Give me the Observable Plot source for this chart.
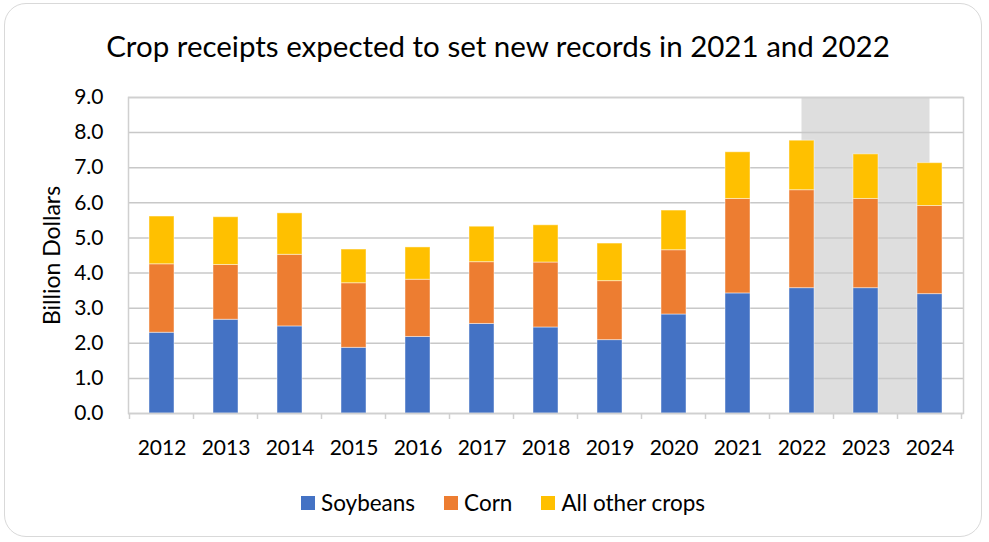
<!DOCTYPE html>
<html>
<head>
<meta charset="utf-8">
<script src="https://cdn.jsdelivr.net/npm/d3@7"></script>
<script src="https://cdn.jsdelivr.net/npm/@observablehq/plot@0.6"></script>
<style>
  html, body { margin: 0; padding: 0; background: #fff; }
  #wrap { position: relative; width: 989px; height: 542px; overflow: hidden; font-family: Lato, "Open Sans", sans-serif; color: #000; }
  #box { position: absolute; left: 4px; top: 3px; width: 978px; height: 534px; border: 1.5px solid #d9d9d9; border-radius: 22px; box-sizing: border-box; }
  #title { position: absolute; left: 0; width: 996px; top: 29px; text-align: center; font-size: 29.5px; line-height: 34px; white-space: nowrap; }
  #chart { position: absolute; left: 0; top: 0; }
  #legend { position: absolute; left: 301px; top: 490px; display: flex; align-items: center; font-size: 22.5px; line-height: 26px; white-space: nowrap; }
  .item { display: flex; align-items: center; margin-right: 29px; }
  .sw { width: 14px; height: 14px; margin-right: 6px; }
</style>
</head>
<body>
<div id="wrap">
  <div id="box"></div>
  <div id="chart"></div>
  <div id="title">Crop receipts expected to set new records in 2021 and 2022</div>
  <div id="legend"></div>
</div>
<script>
const years = ["2012","2013","2014","2015","2016","2017","2018","2019","2020","2021","2022","2023","2024"];
const crops = ["Soybeans", "Corn", "All other crops"];
const soybeans = [2.30, 2.67, 2.48, 1.87, 2.18, 2.55, 2.45, 2.09, 2.82, 3.42, 3.57, 3.57, 3.40];
const corn     = [1.95, 1.56, 2.04, 1.84, 1.63, 1.76, 1.85, 1.68, 1.83, 2.69, 2.79, 2.54, 2.51];
const other    = [1.36, 1.36, 1.18, 0.96, 0.92, 1.01, 1.06, 1.07, 1.13, 1.33, 1.41, 1.27, 1.22];
const colors = ["#4472C4", "#ED7D31", "#FFC000"];
const yTicks = [0, 1, 2, 3, 4, 5, 6, 7, 8, 9];
const shadeFrom = "2022", shadeTo = "2024";
const yMax = 9;

const series = [soybeans, corn, other];
const data = [];
years.forEach((yr, i) => {
  crops.forEach((c, j) => data.push({year: yr, crop: c, value: series[j][i]}));
});

const ns = "http://www.w3.org/2000/svg";
function bw(x) { return typeof x.bandwidth === "function" ? x.bandwidth() : x.bandwidth; }

function shadeMark(index, scales) {
  const x = scales.x, y = scales.y;
  const b = bw(x);
  const x1 = x(shadeFrom) + b / 2, x2 = x(shadeTo) + b / 2;
  const r = document.createElementNS(ns, "rect");
  r.setAttribute("x", x1);
  r.setAttribute("width", x2 - x1);
  r.setAttribute("y", y(yMax));
  r.setAttribute("height", y(0) - y(yMax));
  r.setAttribute("fill", "#dedede");
  return r;
}

function boundaryTicks(index, scales) {
  const x = scales.x, y = scales.y;
  const b = bw(x);
  const step = x(years[1]) - x(years[0]);
  const g = document.createElementNS(ns, "g");
  g.setAttribute("stroke", "#d0d0d0");
  g.setAttribute("stroke-width", "1.5");
  const pos = years.map(yr => x(yr) + b / 2 - step / 2);
  pos.push(x(years[years.length - 1]) + b / 2 + step / 2);
  pos.forEach(px => {
    const l = document.createElementNS(ns, "line");
    l.setAttribute("x1", px); l.setAttribute("x2", px);
    l.setAttribute("y1", y(0)); l.setAttribute("y2", y(0) + 6);
    g.appendChild(l);
  });
  return g;
}

const plot = Plot.plot({
  width: 989,
  height: 542,
  marginLeft: 128,
  marginRight: 26,
  marginTop: 97,
  marginBottom: 129,
  style: {background: "transparent", fontFamily: "Lato, 'Open Sans', sans-serif", color: "#000"},
  x: {domain: years, paddingInner: 0.61, paddingOuter: 0.305},
  y: {domain: [0, yMax]},
  color: {domain: crops, range: colors},
  marks: [
    shadeMark,
    Plot.gridY(yTicks, {stroke: "#c8c8c8", strokeOpacity: 1, strokeWidth: 1.5}),
    Plot.barY(data, {x: "year", y: "value", fill: "crop", stroke: "#ffffff", strokeOpacity: 0.45, strokeWidth: 1}),
    Plot.frame({stroke: "#d0d0d0", strokeWidth: 1.5}),
    boundaryTicks,
    Plot.axisY(yTicks, {tickSize: 0, tickPadding: 25, tickFormat: d3.format(".1f"), fontSize: 21, label: null}),
    Plot.axisX({tickSize: 0, tickPadding: 27, fontSize: 21, label: null}),
    Plot.text(["Billion Dollars"], {frameAnchor: "left", textAnchor: "middle", dx: -76, rotate: -90, fontSize: 23})
  ]
});
document.getElementById("chart").appendChild(plot);

const legend = document.getElementById("legend");
crops.forEach((c, i) => {
  const it = document.createElement("div");
  it.className = "item";
  const sw = document.createElement("div");
  sw.className = "sw";
  sw.style.background = colors[i];
  const t = document.createElement("span");
  t.textContent = c;
  it.appendChild(sw); it.appendChild(t);
  legend.appendChild(it);
});
</script>
</body>
</html>
